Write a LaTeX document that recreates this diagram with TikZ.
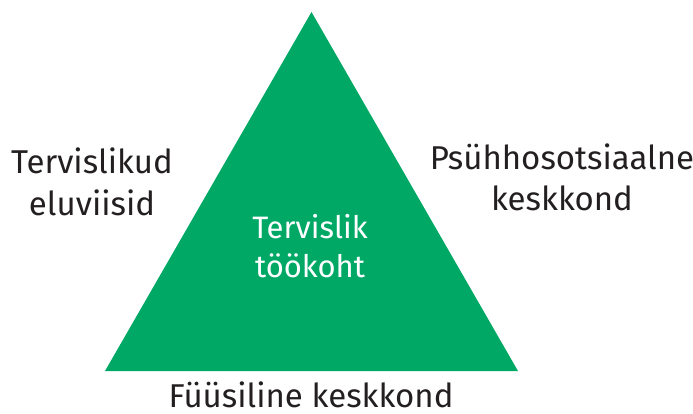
\documentclass[tikz,border=0pt]{standalone}
\usepackage{fontspec}
\setmainfont{Fira Sans}
\definecolor{tgreen}{HTML}{00A866}
\definecolor{tdark}{HTML}{231F20}
\begin{document}
\begin{tikzpicture}[x=1pt,y=-1pt,
  lbl/.style={text=tdark,font=\fontsize{33}{41}\selectfont,align=center,inner sep=0pt,anchor=base},
  inlbl/.style={text=white,font=\fontsize{31}{39}\selectfont,align=center,inner sep=0pt,anchor=base}]
\useasboundingbox (0,0) rectangle (693,414);
\coordinate (A) at (311.5,12);
\coordinate (B) at (105,371);
\coordinate (C) at (518,371);
\fill[tgreen] (A) -- (B) -- (C) -- cycle;
\node[inlbl] (c1) at (310,238) {Tervislik};
\node[inlbl] (c2) at (310,277) {töökoht};
\node[lbl] (l1) at (92,174) {Tervislikud};
\node[lbl] (l2) at (92,215) {eluviisid};
\node[lbl] (r1) at (562,170) {Psühhosotsiaalne};
\node[lbl] (r2) at (562,211) {keskkond};
\node[lbl] (b1) at (311,407) {Füüsiline keskkond};
\end{tikzpicture}
\end{document}
